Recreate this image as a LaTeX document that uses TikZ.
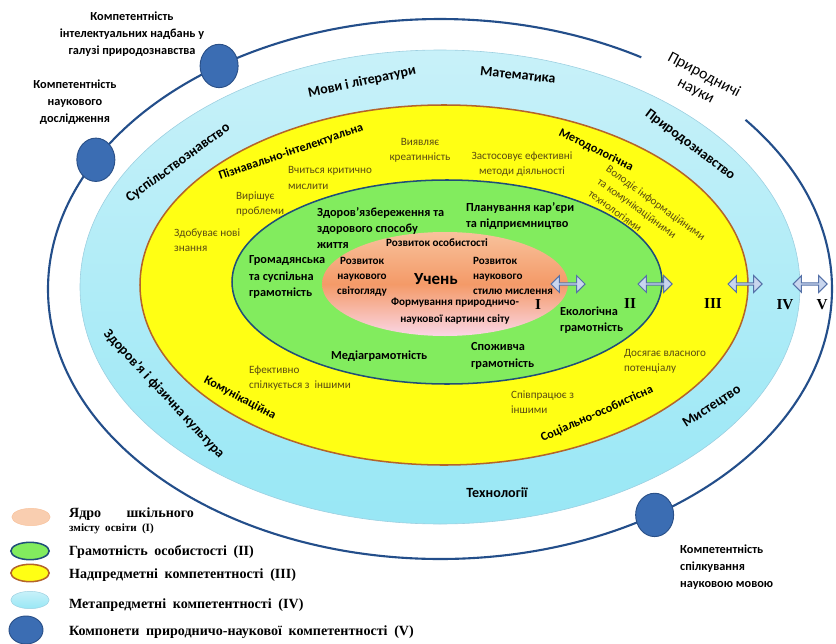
\documentclass[tikz,border=0pt]{standalone}
\usepackage{fontspec}
\setmainfont{Carlito}
\newfontfamily\serifbold[WordSpace=1.9]{Liberation Serif}
\usetikzlibrary{shapes.geometric,shapes.arrows}
\definecolor{skytop}{HTML}{C8F1F9}
\definecolor{skybot}{HTML}{98E7F5}
\definecolor{skyedge}{HTML}{9CCFE0}
\definecolor{lemon}{HTML}{FFFF14}
\definecolor{rust}{HTML}{B4642A}
\definecolor{leaf}{HTML}{82EC5E}
\definecolor{navy}{HTML}{1F4E79}
\definecolor{peach}{HTML}{F8C29C}
\definecolor{coral}{HTML}{F49A68}
\definecolor{blush}{HTML}{FAD6E6}
\definecolor{ring}{HTML}{234E8A}
\definecolor{dotblue}{HTML}{3B6DB3}
\definecolor{dotedge}{HTML}{2A5088}
\definecolor{olivetext}{HTML}{5A4B12}
\definecolor{arrowfill}{HTML}{C9D6EE}
\definecolor{arrowedge}{HTML}{5571A8}
\begin{document}
\begin{tikzpicture}[x=0.03cm, y=-0.03cm,
  metalayer/.style={top color=skytop, bottom color=skybot, draw=skyedge, line width=0.5pt},
  overlayer/.style={fill=lemon, draw=rust, line width=1.3pt},
  litlayer/.style={fill=leaf, draw=navy, line width=1.3pt},
  corelayer/.style={top color=peach, bottom color=blush, middle color=coral},
  compdot/.style={ellipse, fill=dotblue, draw=dotedge, line width=0.8pt, minimum width=1.14cm, minimum height=1.3cm},
  comptext/.style={font=\bfseries\fontsize{10.5}{14.5}\selectfont, align=center},
  subject/.style={font=\bfseries\fontsize{12}{13}\selectfont},
  skill/.style={font=\bfseries\fontsize{10.5}{12}\selectfont},
  deed/.style={font=\fontsize{9.5}{13}\selectfont, text=olivetext, align=left},
  literacy/.style={font=\bfseries\fontsize{10.5}{14}\selectfont, align=left, anchor=west},
  coretext/.style={font=\bfseries\fontsize{9.5}{12.8}\selectfont},
  roman/.style={font=\serifbold\bfseries\fontsize{13}{13}\selectfont},
  bond/.style={double arrow, draw=arrowedge, fill=arrowfill, line width=0.9pt, minimum height=1.02cm, minimum width=0.5cm, double arrow head extend=0.1cm, inner sep=0pt},
  legendmark/.style={ellipse, minimum width=1.15cm, minimum height=0.52cm},
  legendtext/.style={font=\serifbold\bfseries\fontsize{12}{13}\selectfont, anchor=west}
]
\useasboundingbox (0,0) rectangle (836,644);
\coordinate (centre) at (440,289);
\draw[draw=ring, line width=1.8pt] (centre) ++(-38.8:392 and 270) arc[start angle=-38.8, end angle=300.9, x radius=392, y radius=270];

\draw[metalayer] (440,287) ellipse [x radius=360, y radius=237];
\draw[overlayer] (444,285) ellipse [x radius=304, y radius=180];
\draw[litlayer] (447,282) ellipse [x radius=215, y radius=102];
\path[corelayer] (445,284) ellipse [x radius=123, y radius=52];

\path (centre) ++(235.7:392 and 270) node[compdot] (heritage) {};
\path (centre) ++(208.6:392 and 270) node[compdot] (research) {};
\path (centre) ++(56.8:392 and 270) node[compdot] (speech) {};
\node[comptext] (heritagetext) at (132,34) {Компетентність\\інтелектуальних надбань у\\галузі природознавства};
\node[comptext] (researchtext) at (75,102) {Компетентність\\наукового\\дослідження};
\node[comptext, align=left, anchor=west] (speechtext) at (676,567) {Компетентність\\спілкування\\науковою мовою};
\node[font=\fontsize{13.5}{15}\selectfont, align=center, rotate=-28] (sciences) at (700,83) {Природничі\\науки};

\node[subject, rotate=12] (languages) at (362,82) {Мови і літератури};
\node[subject, rotate=-6] (maths) at (518,75) {Математика};
\node[subject, rotate=-37] (nature) at (690,145) {Природознавство};
\node[subject, rotate=36] (society) at (178,163) {Суспільствознавство};
\node[subject, rotate=-47] (health) at (164,394) {Здоров’я і фізична культура};
\node[subject, rotate=33] (art) at (712,407) {Мистецтво};
\node[subject] (tech) at (497,493) {Технології};

\node[skill, rotate=19] (cognitive) at (291,152) {Пізнавально-інтелектуальна};
\node[skill, rotate=-26] (method) at (596,150) {Методологічна};
\node[skill, rotate=-28] (commun) at (240,398) {Комунікаційна};
\node[skill, rotate=24] (social) at (597,414) {Соціально-особистісна};

\node[deed, align=center] (creative) at (420,150) {Виявляє\\креатинність};
\node[deed, anchor=west] (critical) at (284,178) {Вчиться критично\\мислити};
\node[deed, anchor=west] (solves) at (232,204) {Вирішує\\проблеми};
\node[deed, anchor=west] (learns) at (170,240) {Здобуває нові\\знання};
\node[deed, align=center] (applies) at (522,164) {Застосовує ефективні\\методи діяльності};
\node[deed, rotate=-36] (masters) at (647,215) {Володіє інформаційними\\та комунікаційними\\технологіями};
\node[deed, anchor=west] (talks) at (245,378) {Ефективно\\спілкується з\ \ іншими};
\node[deed, anchor=west] (reaches) at (620,361) {Досягає власного\\потенціалу};
\node[deed, anchor=west] (cooperates) at (507,402) {Співпрацює з\\іншими};

\node[literacy] (healthlit) at (313,228) {Здоров’язбереження та\\здорового способу\\життя};
\node[literacy] (career) at (462,216) {Планування кар’єри\\та підприємництво};
\node[literacy] (civic) at (245,277) {Громадянська\\та суспільна\\грамотність};
\node[literacy] (media) at (327,356) {Медіаграмотність};
\node[literacy] (consumer) at (467,356) {Споживча\\грамотність};
\node[literacy] (ecology) at (556,320) {Екологічна\\грамотність};

\node[coretext] (personal) at (437,243) {Розвиток особистості};
\node[coretext, align=center] (worldview) at (362,277) {Розвиток\\наукового\\світогляду};
\node[font=\bfseries\fontsize{14.5}{16}\selectfont] (pupil) at (436,279) {Учень};
\node[coretext, align=left, anchor=west] (thinking) at (469,276) {Розвиток\\наукового\\стилю мислення};
\node[coretext, align=center, font=\bfseries\fontsize{9.5}{15}\selectfont] (picture) at (455,311) {Формування природничо-\\наукової картини світу};

\node[bond] (bondI) at (568,284) {};
\node[bond] (bondII) at (655,284) {};
\node[bond] (bondIII) at (745,284) {};
\node[bond] (bondIV) at (810,284) {};
\node[roman] (romanI) at (538,305) {I};
\node[roman] (romanII) at (630,304) {II};
\node[roman] (romanIII) at (713,304) {III};
\node[roman] (romanIV) at (785,305) {IV};
\node[roman] (romanV) at (822,305) {V};

\node[legendmark, fill=peach!80, draw=peach] (keyI) at (31,517) {};
\node[legendmark, fill=leaf, draw=navy, line width=1.3pt] (keyII) at (30,551) {};
\node[legendmark, fill=lemon, draw=rust, line width=1.3pt] (keyIII) at (30,573) {};
\node[legendmark, top color=skytop, bottom color=skybot, draw=skyedge] (keyIV) at (30,600) {};
\node[ellipse, fill=dotblue, draw=dotedge, line width=0.8pt, minimum width=1.02cm, minimum height=0.84cm] (keyV) at (26,630) {};
\node[legendtext, align=left] (textI) at (65,521) {Ядро\hspace{1.8em}шкільного\\[-1pt]{\fontsize{9.5}{11}\selectfont змісту освіти (I)}};
\node[legendtext] (textII) at (65,552) {Грамотність особистості (II)};
\node[legendtext] (textIII) at (65,575) {Надпредметні компетентності (III)};
\node[legendtext] (textIV) at (65,605) {Метапредметні компетентності (IV)};
\node[legendtext] (textV) at (65,632) {Компонети природничо-наукової компетентності (V)};
\end{tikzpicture}
\end{document}
